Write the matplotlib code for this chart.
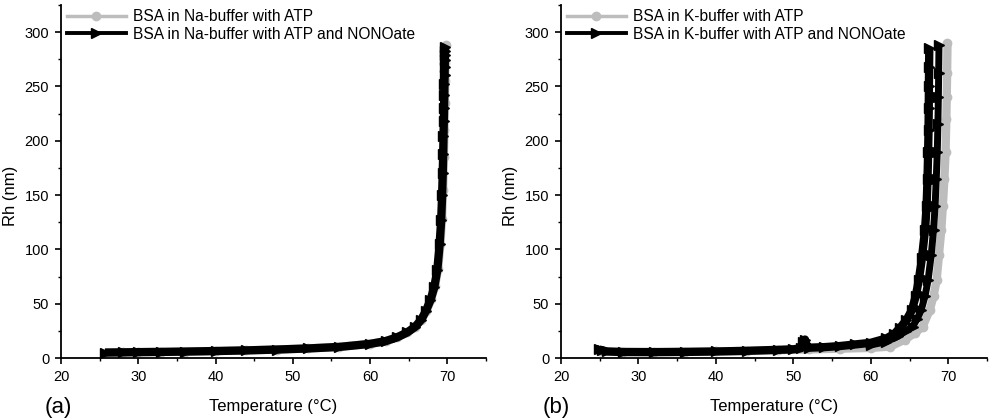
import matplotlib
matplotlib.use("Agg")
import matplotlib.pyplot as plt
from matplotlib.ticker import MultipleLocator
from matplotlib.lines import Line2D

plt.rcParams['font.family'] = ['Liberation Sans', 'DejaVu Sans']

# ---------------- Panel (a): Na-buffer ----------------
na_atp_T = [25.7, 28, 30, 33, 36, 40, 44, 48, 52, 56, 60, 62, 63.5, 64.8, 65.8, 66.6, 67.3,
            67.9, 68.4, 68.8, 69.1, 69.3, 69.45, 69.55, 69.62, 69.68, 69.72, 69.75, 69.78]
na_atp_Rh = [5.0, 5.2, 5.4, 5.6, 5.9, 6.4, 7.0, 7.8, 8.8, 10.2, 13.0, 15.5, 19.0, 23.5, 28.5,
             35.0, 43.0, 54.0, 66.0, 82.0, 105.0, 128.0, 155.0, 185.0, 210.0, 235.0, 255.0, 272.0, 288.0]

na_nono_T = [25.7, 28, 30, 33, 36, 40, 44, 48, 52, 56, 60, 62, 63.5, 64.8, 65.8, 66.6, 67.2,
             67.8, 68.3, 68.7, 69.0, 69.2, 69.32, 69.4, 69.46, 69.5, 69.54, 69.57, 69.6,
             69.62, 69.64, 69.66, 69.67, 69.68, 69.69, 69.7]
na_nono_Rh = [5.0, 5.2, 5.4, 5.6, 5.9, 6.4, 7.0, 7.8, 8.8, 10.2, 13.0, 15.5, 19.0, 23.5, 28.5,
              35.0, 43.0, 53.0, 65.0, 81.0, 105.0, 127.0, 150.0, 170.0, 188.0, 204.0, 218.0,
              230.0, 242.0, 252.0, 261.0, 268.0, 274.0, 279.0, 283.0, 286.0]

# ---------------- Panel (b): K-buffer ----------------
k_atp_T = [25.0, 28, 32, 36, 40, 44, 48, 52, 56, 60, 62.5, 64.4, 65.7, 66.7, 67.6, 68.1, 68.5,
           68.8, 69.1, 69.3, 69.5, 69.65, 69.75, 69.8, 69.85, 69.9]
k_atp_Rh = [6.0, 5.6, 5.5, 5.7, 6.0, 6.5, 7.2, 7.9, 8.6, 9.3, 10.5, 17.0, 23.0, 29.0, 44.0,
            57.0, 72.0, 95.0, 118.0, 140.0, 165.0, 190.0, 220.0, 240.0, 262.0, 290.0]

k_nono_T = [24.9, 25.3, 26, 28, 32, 36, 40, 44, 48, 50, 51.0, 51.3, 51.5, 51.7, 52.0, 54, 56,
            58, 60, 62, 63, 63.8, 64.6, 65.3, 65.8, 66.2, 66.6, 67.0, 67.2, 67.32, 67.4,
            67.45, 67.48, 67.5, 67.52, 67.55]
k_nono_Rh = [8.0, 7.0, 6.0, 5.5, 5.4, 5.6, 6.0, 6.6, 7.5, 8.0, 9.0, 15.0, 17.0, 12.0, 9.5, 10.0,
             11.0, 12.5, 14.0, 18.0, 22.0, 28.0, 35.0, 44.0, 57.0, 72.0, 92.0, 118.0, 140.0,
             165.0, 190.0, 210.0, 230.0, 250.0, 268.0, 285.0]

k_nono2_T = [60, 62, 63.5, 64.5, 65.4, 66.0, 66.5, 67.0, 67.4, 67.8, 68.1, 68.3, 68.45, 68.58,
             68.66, 68.72, 68.76, 68.8]
k_nono2_Rh = [12.0, 15.0, 20.0, 25.0, 29.0, 36.0, 44.0, 57.0, 72.0, 95.0, 118.0, 140.0, 165.0,
              190.0, 215.0, 240.0, 262.0, 288.0]

labels_a = ["BSA in Na-buffer with ATP", "BSA in Na-buffer with ATP and NONOate"]
labels_b = ["BSA in K-buffer with ATP", "BSA in K-buffer with ATP and NONOate"]

GREY = "#bdbdbd"
BLACK = "#000000"

fig = plt.figure(figsize=(9.92, 4.2), dpi=100)
ax1 = fig.add_axes([61 / 992, 1 - 358 / 420, 425 / 992, 353 / 420])
ax2 = fig.add_axes([561 / 992, 1 - 358 / 420, 426 / 992, 353 / 420])


def style(ax):
    ax.set_xlim(20, 75)
    ax.set_ylim(0, 325)
    ax.xaxis.set_major_locator(MultipleLocator(10))
    ax.xaxis.set_minor_locator(MultipleLocator(5))
    ax.yaxis.set_major_locator(MultipleLocator(50))
    ax.yaxis.set_minor_locator(MultipleLocator(25))
    for s in ("top", "right"):
        ax.spines[s].set_visible(False)
    for s in ("left", "bottom"):
        ax.spines[s].set_linewidth(1.3)
    ax.tick_params(which="major", direction="out", length=4.5, width=1.2, labelsize=10.5, pad=4)
    ax.tick_params(which="minor", direction="out", length=2.5, width=1.0)
    ax.set_xlabel("Temperature (°C)", fontsize=12, labelpad=11)
    ax.set_ylabel("Rh (nm)", fontsize=12)
    ax.yaxis.set_label_coords(-0.1, 0.46)


for ax, (gT, gR), (bT, bR) in [
    (ax1, (na_atp_T, na_atp_Rh), (na_nono_T, na_nono_Rh)),
    (ax2, (k_atp_T, k_atp_Rh), (k_nono_T, k_nono_Rh)),
]:
    ax.plot(gT, gR, color=GREY, lw=6, marker="o", ms=6, solid_capstyle="butt")
    ax.plot(bT, bR, color=BLACK, lw=6, marker=">", ms=6.5, solid_capstyle="butt")
    style(ax)

ax2.plot(k_nono2_T, k_nono2_Rh, color=BLACK, lw=5, marker=">", ms=6.5, solid_capstyle="butt")

for ax, labels in [(ax1, labels_a), (ax2, labels_b)]:
    handles = [Line2D([], [], color=GREY, lw=2.5, marker="o", ms=6),
               Line2D([], [], color=BLACK, lw=2.8, marker=">", ms=7)]
    ax.legend(handles, labels, loc="upper left", bbox_to_anchor=(0.0, 1.005),
              frameon=False, fontsize=11.2, handlelength=3.75, handletextpad=0.45,
              labelspacing=0.15, borderaxespad=0.2, borderpad=0.2)

fig.text(45 / 992, 1 - 408 / 420, "(a)", fontsize=16, va="center", ha="left")
fig.text(543 / 992, 1 - 408 / 420, "(b)", fontsize=16, va="center", ha="left")

fig.savefig("out.png", dpi=100)
